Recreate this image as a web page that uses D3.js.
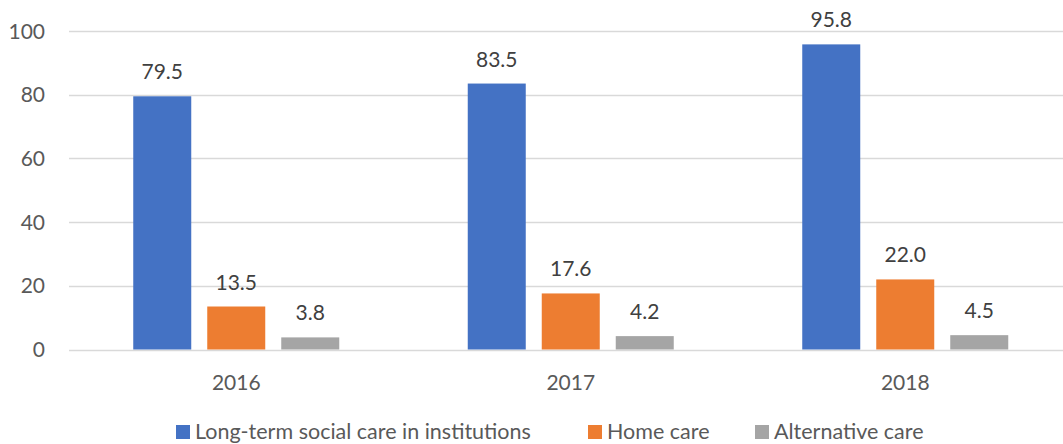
<!DOCTYPE html>
<html><head><meta charset="utf-8">
<script src="https://cdn.jsdelivr.net/npm/d3@7"></script>
<style>body{margin:0;background:#fff;} svg{display:block;font-family:Lato,"Open Sans",sans-serif;}</style>
</head><body><svg id="c" width="1063" height="444"></svg>
<script>
const categories = ["2016", "2017", "2018"];
const seriesNames = ["Long-term social care in institutions", "Home care", "Alternative care"];
const institutions = [79.5, 83.5, 95.8];
const homeCare = [13.5, 17.6, 22.0];
const alternative = [3.8, 4.2, 4.5];
const yTicks = [0, 20, 40, 60, 80, 100];
const colors = ["#4472C4", "#ED7D31", "#A5A5A5"];
const seriesValues = [institutions, homeCare, alternative];

const svg = d3.select("#c");
const x0 = d3.scaleBand().domain(categories).range([69, 1072.5]).padding(0);
const groupW = 206;
const x1 = d3.scaleBand().domain(seriesNames).range([0, groupW]).paddingInner(16/74).paddingOuter(0);
const y = d3.scaleLinear().domain([0, 100]).range([349.5, 31]);

// gridlines
svg.append("g").selectAll("line").data(yTicks).join("line")
  .attr("x1", 69).attr("x2", 1063)
  .attr("y1", d => Math.round(y(d)) + 0.5).attr("y2", d => Math.round(y(d)) + 0.5)
  .attr("stroke", "#D9D9D9").attr("stroke-width", 1.5);

// y tick labels
svg.append("g").selectAll("text").data(yTicks).join("text")
  .attr("x", 45).attr("y", d => y(d)).attr("dy", "0.36em")
  .attr("text-anchor", "end").attr("fill", "#595959").attr("font-size", 21)
  .text(d => d);

// bars
const groups = svg.append("g").selectAll("g").data(categories).join("g")
  .attr("transform", c => `translate(${x0(c) + x0.bandwidth()/2 - groupW/2},0)`);
groups.each(function(c, i) {
  const g = d3.select(this);
  seriesNames.forEach((s, j) => {
    const v = seriesValues[j][i];
    g.append("rect").attr("x", x1(s)).attr("width", x1.bandwidth())
      .attr("y", y(v)).attr("height", y(0) - y(v)).attr("fill", colors[j]);
    g.append("text").attr("x", x1(s) + x1.bandwidth()/2).attr("y", y(v) - 17)
      .attr("text-anchor", "middle").attr("fill", "#404040").attr("font-size", 21)
      .text(v.toFixed(1));
  });
});

// x labels
svg.append("g").selectAll("text").data(categories).join("text")
  .attr("x", c => x0(c) + x0.bandwidth()/2).attr("y", 390)
  .attr("text-anchor", "middle").attr("fill", "#595959").attr("font-size", 21)
  .text(c => c);

// legend
const legendX = [176, 588, 755];
const lg = svg.append("g").selectAll("g").data(seriesNames).join("g")
  .attr("transform", (d, i) => `translate(${legendX[i]},0)`);
lg.append("rect").attr("x", 0).attr("y", 425).attr("width", 14).attr("height", 14)
  .attr("fill", (d, i) => colors[i]);
lg.append("text").attr("x", 19).attr("y", 439).attr("fill", "#595959").attr("font-size", 21.5)
  .text(d => d);
</script></body></html>
